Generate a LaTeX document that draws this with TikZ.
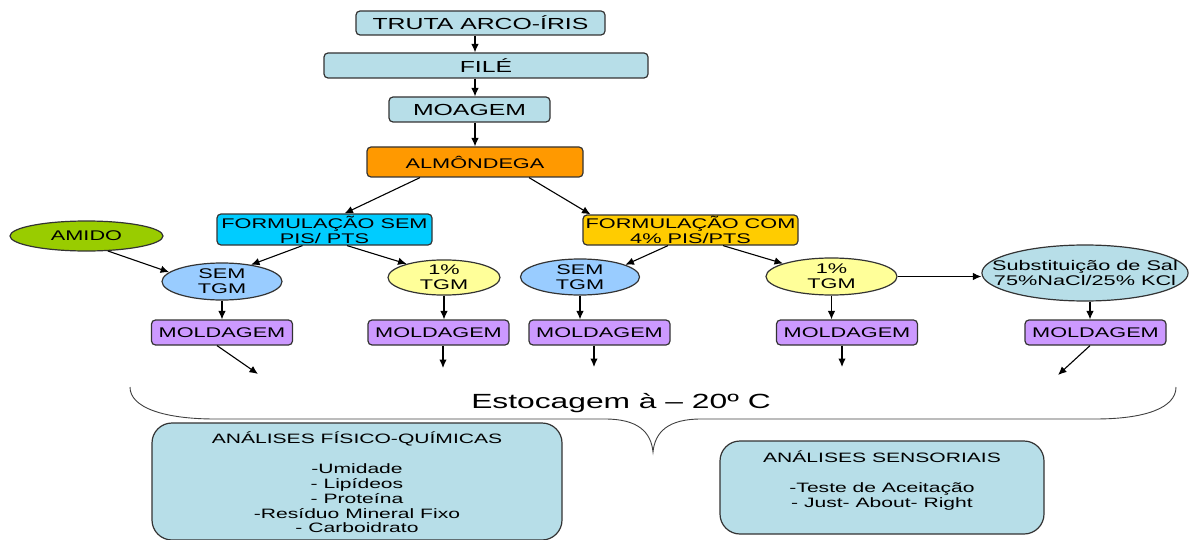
\documentclass[tikz,border=0pt]{standalone}
\usepackage{fontspec}
\setmainfont{Liberation Sans}[FakeStretch=1.55]
\usetikzlibrary{arrows.meta,shapes.geometric,calc}
\definecolor{tealbox}{RGB}{183,222,232}
\definecolor{orangebox}{RGB}{255,153,0}
\definecolor{cyanbox}{RGB}{0,204,255}
\definecolor{goldbox}{RGB}{255,204,0}
\definecolor{greenell}{RGB}{153,204,0}
\definecolor{blueell}{RGB}{153,204,255}
\definecolor{yellowell}{RGB}{255,255,153}
\definecolor{purplebox}{RGB}{204,153,255}
\tikzset{
  box/.style={draw=black!80,line width=1.2pt,rounded corners=4pt,inner sep=0pt,align=center,font=\fontsize{14}{15}\selectfont},
  topbox/.style={box,fill=tealbox,minimum height=25pt,font=\fontsize{16}{17}\selectfont},
  ell/.style={ellipse,draw=black!80,line width=1.2pt,inner sep=0pt,align=center,font=\fontsize{14}{15}\selectfont},
  moldbox/.style={box,fill=purplebox,minimum width=141pt,minimum height=25pt},
  arr/.style={-{Latex[length=8.5pt,width=7.5pt]},line width=1.1pt},
  anbox/.style={draw=black!80,line width=1.2pt,rounded corners=20pt,fill=tealbox},
  antext/.style={align=center,inner sep=0pt,font=\fontsize{13.6}{14.8}\selectfont},
}
\begin{document}
\begin{tikzpicture}[x=1pt,y=-1pt]
\useasboundingbox (0,0) rectangle (1190,540);
\node[topbox,minimum width=249pt,minimum height=24pt] (truta) at (480.5,23) {TRUTA ARCO-ÍRIS};
\node[topbox,minimum width=324pt] (file) at (486,65.5) {FILÉ};
\node[topbox,minimum width=161pt] (moag) at (469.5,109.5) {MOAGEM};
\node[box,fill=orangebox,minimum width=216pt,minimum height=30pt] (alm) at (475,162) {ALMÔNDEGA};
\node[box,fill=cyanbox,minimum width=215pt,minimum height=31pt] (fsem) at (324.5,229.5) {FORMULAÇÃO SEM\\PIS/ PTS};
\node[box,fill=goldbox,minimum width=215pt,minimum height=30pt] (fcom) at (690.5,230) {FORMULAÇÃO COM\\4\% PIS/PTS};
\node[ell,fill=greenell,minimum width=153pt,minimum height=30pt] (amido) at (86.5,236) {AMIDO};
\node[ell,fill=blueell,minimum width=120pt,minimum height=37pt] (semA) at (222,281.5) {SEM\\TGM};
\node[ell,fill=yellowell,minimum width=112pt,minimum height=35pt] (umA) at (444,277.5) {1\%\\TGM};
\node[ell,fill=blueell,minimum width=119pt,minimum height=36pt] (semB) at (580,277) {SEM\\TGM};
\node[ell,fill=yellowell,minimum width=131pt,minimum height=37pt] (umB) at (831.5,276.5) {1\%\\TGM};
\node[ell,fill=tealbox,minimum width=206pt,minimum height=56pt,inner xsep=-20pt] (subst) at (1085,273) {Substituição de Sal\\75\%NaCl/25\% KCl};
\foreach \nm/\xx in {moldA/222,moldB/438.5,moldC/599.5,moldD/847,moldE/1095.5}
  \node[moldbox] (\nm) at (\xx,332.5) {MOLDAGEM};

\draw[arr] (truta.south -| alm) -- (file.north -| alm);
\draw[arr] (file.south -| alm) -- (moag.north -| alm);
\draw[arr] (moag.south -| alm) -- (alm.north);
\draw[arr] ([xshift=-55pt]alm.south) -- ([xshift=20pt]fsem.north);
\draw[arr] ([xshift=54pt]alm.south) -- ([xshift=-100pt]fcom.north);
\draw[arr] (amido.-35) -- (semA.170);
\draw[arr] ([xshift=-22pt]fsem.south) -- (semA.30);
\draw[arr] ([xshift=22.5pt]fsem.south) -- (umA.160);
\draw[arr] ([xshift=-22.5pt]fcom.south) -- (semB.15);
\draw[arr] ([xshift=32.5pt]fcom.south) -- (umB.165);
\draw[arr] (umB.east) -- (umB.east -| subst.west);
\draw[arr] (semA.south) -- (moldA.north);
\draw[arr] (umA.south) -- (umA.south |- moldB.north);
\draw[arr] (semB.south) -- (semB.south |- moldC.north);
\draw[arr] (umB.south) -- (umB.south |- moldD.north);
\draw[arr] ([xshift=5pt]subst.south) -- ([xshift=-5.5pt]moldE.north);

\coordinate (endA) at (258,374);
\coordinate (endB) at (443,368);
\coordinate (endC) at (594,367);
\coordinate (endD) at (842,367);
\coordinate (endE) at (1058,375);
\draw[arr] ([xshift=-5pt]moldA.south) -- (endA);
\draw[arr] (endB |- moldB.south) -- (endB);
\draw[arr] (endC |- moldC.south) -- (endC);
\draw[arr] (endD |- moldD.south) -- (endD);
\draw[arr] ([xshift=-5.5pt]moldE.south) -- (endE);

\draw[line width=0.9pt,black!75] (130,387) .. controls (130,408) and (165,419) .. (215,419) -- (605,419)
  .. controls (638,419) and (651,432) .. (653,452) .. controls (655,432) and (668,419) .. (701,419) -- (1095,419)
  .. controls (1145,419) and (1176,408) .. (1176,387);
\node[anchor=base,inner sep=0pt,font=\fontsize{20.5}{22}\selectfont] (estoc) at (621,408) {Estocagem à – 20º C};

\node[anbox,minimum width=410pt,minimum height=117pt] (fq) at (357,481.5) {};
\node[antext,anchor=north] (fqtext) at (357,432) {ANÁLISES FÍSICO-QUÍMICAS\\[14.8pt]-Umidade\\- Lipídeos\\- Proteína\\-Resíduo Mineral Fixo\\- Carboidrato};
\node[anbox,minimum width=324pt,minimum height=93pt] (sens) at (882,487.5) {};
\node[antext,anchor=north] (senstext) at (882,451) {ANÁLISES SENSORIAIS\\[14.8pt]-Teste de Aceitação\\- Just- About- Right};
\end{tikzpicture}
\end{document}
